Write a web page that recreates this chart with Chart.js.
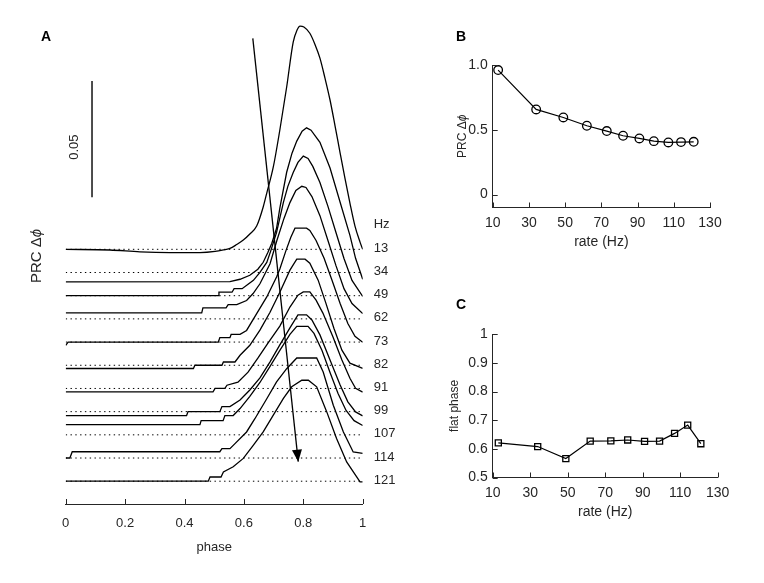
<!DOCTYPE html>
<html><head><meta charset="utf-8">
<script src="https://cdn.jsdelivr.net/npm/chart.js@4.4.0/dist/chart.umd.min.js"></script>
<style>
html,body{margin:0;padding:0;background:#fff;}
#wrap{position:relative;width:764px;height:583px;background:#fff;}
canvas{position:absolute;left:0;top:0;}
</style></head><body>
<div id="wrap">
<canvas id="cA" width="764" height="583"></canvas>
<canvas id="cB" width="764" height="583"></canvas>
<canvas id="cC" width="764" height="583"></canvas>
</div>
<script>
// ---------------- DATA ----------------
const rateHz = [13, 34, 49, 62, 73, 82, 91, 99, 107, 114, 121];
const prcPeakNorm = [0.961, 0.657, 0.595, 0.531, 0.490, 0.454, 0.433, 0.412, 0.402, 0.405, 0.407];
const flatPhase = [0.621, 0.608, 0.566, 0.627, 0.628, 0.631, 0.626, 0.627, 0.654, 0.683, 0.618];

const phaseTicks = [0, 0.2, 0.4, 0.6, 0.8, 1];
const phaseTickLabels = ['0', '0.2', '0.4', '0.6', '0.8', '1'];
const rateTicks = [10, 30, 50, 70, 90, 110, 130];
const rateTickLabels = ['10', '30', '50', '70', '90', '110', '130'];
const prcTicksB = [0, 0.5, 1.0];
const prcTickLabelsB = ['0', '0.5', '1.0'];
const flatTicksC = [0.5, 0.6, 0.7, 0.8, 0.9, 1];
const flatTickLabelsC = ['0.5', '0.6', '0.7', '0.8', '0.9', '1'];
const scaleBarValue = 0.05;

// PRC curves, [phase, delta phi] pairs
const prc13 = [[0,0],[0.149,-0.0003],[0.25,-0.0011],[0.351,-0.0014],[0.452,-0.0014],[0.503,-0.0009],[0.536,-0.0001],[0.553,0.0004],[0.576,0.0021],[0.598,0.0040],[0.620,0.0066],[0.643,0.0100],[0.665,0.0182],[0.677,0.0242],[0.699,0.0354],[0.721,0.0513],[0.744,0.0698],[0.766,0.0891],[0.779,0.0943],[0.789,0.0960],[0.802,0.0956],[0.822,0.0929],[0.839,0.0882],[0.856,0.0822],[0.873,0.0736],[0.890,0.0642],[0.907,0.0530],[0.924,0.0414],[0.940,0.0307],[0.957,0.0199],[0.974,0.0100],[0.991,0.0031],[1,0]];
const prc34 = [[0,-0.0040],[0.553,-0.0039],[0.587,-0.0029],[0.620,-0.0012],[0.647,0.0014],[0.665,0.0044],[0.681,0.0087],[0.694,0.0126],[0.710,0.0190],[0.721,0.0277],[0.744,0.0431],[0.762,0.0513],[0.778,0.0565],[0.796,0.0608],[0.811,0.0622],[0.826,0.0612],[0.856,0.0560],[0.890,0.0449],[0.924,0.0302],[0.957,0.0160],[0.976,0.0061],[1,-0.0029]];
const prc49 = [[0,0],[0.513,0],[0.516,0.0015],[0.560,0.0015],[0.567,0.0030],[0.594,0.0030],[0.614,0.0049],[0.632,0.0066],[0.654,0.0100],[0.677,0.0143],[0.691,0.0195],[0.710,0.0272],[0.733,0.0401],[0.748,0.0470],[0.766,0.0530],[0.782,0.0573],[0.800,0.0600],[0.816,0.0590],[0.832,0.0556],[0.856,0.0487],[0.883,0.0384],[0.910,0.0272],[0.937,0.0160],[0.964,0.0066],[1,-0.0003]];
const prc62 = [[0,0.0026],[0.458,0.0026],[0.462,0.0047],[0.540,0.0047],[0.547,0.0061],[0.576,0.0061],[0.609,0.0079],[0.631,0.0109],[0.654,0.0151],[0.688,0.0237],[0.711,0.0337],[0.735,0.0432],[0.755,0.0500],[0.775,0.0552],[0.795,0.0570],[0.809,0.0565],[0.829,0.0526],[0.856,0.0444],[0.883,0.0337],[0.910,0.0229],[0.937,0.0130],[0.964,0.0066],[1,0.0023]];
const prc73 = [[0,-0.0014],[0.008,0],[0.514,0],[0.519,0.0019],[0.553,0.0019],[0.557,0.0033],[0.587,0.0033],[0.609,0.0050],[0.643,0.0122],[0.677,0.0194],[0.710,0.0280],[0.721,0.0314],[0.741,0.0391],[0.758,0.0451],[0.772,0.0490],[0.811,0.0490],[0.822,0.0480],[0.843,0.0437],[0.870,0.0360],[0.897,0.0265],[0.924,0.0166],[0.950,0.0080],[0.974,0.0025],[1,-0.0001]];
const prc82 = [[0,-0.0014],[0.430,-0.0014],[0.435,0],[0.526,0],[0.531,0.0014],[0.570,0.0014],[0.587,0.0043],[0.620,0.0086],[0.654,0.0151],[0.688,0.0228],[0.721,0.0314],[0.755,0.0409],[0.778,0.0456],[0.806,0.0456],[0.822,0.0439],[0.850,0.0366],[0.876,0.0267],[0.903,0.0159],[0.930,0.0065],[0.957,0.0009],[1,-0.0013]];
const prc91 = [[0,-0.0015],[0.496,-0.0015],[0.503,0],[0.536,0],[0.543,0.0014],[0.580,0.0027],[0.614,0.0070],[0.647,0.0130],[0.681,0.0195],[0.721,0.0268],[0.755,0.0350],[0.782,0.0401],[0.800,0.0415],[0.822,0.0415],[0.843,0.0380],[0.866,0.0324],[0.900,0.0221],[0.930,0.0122],[0.957,0.0044],[0.976,0.0001],[1,-0.0016]];
const prc99 = [[0,-0.0017],[0.407,-0.0017],[0.412,0],[0.519,0],[0.526,0.0022],[0.553,0.0022],[0.587,0.0050],[0.620,0.0093],[0.654,0.0145],[0.688,0.0214],[0.721,0.0287],[0.755,0.0360],[0.782,0.0416],[0.811,0.0416],[0.829,0.0394],[0.856,0.0330],[0.890,0.0222],[0.924,0.0115],[0.950,0.0042],[0.976,-0.0001],[1,-0.0018]];
const prc107 = [[0,0.0044],[0.452,0.0044],[0.456,0.0061],[0.530,0.0061],[0.536,0.0083],[0.564,0.0083],[0.587,0.0113],[0.620,0.0165],[0.654,0.0225],[0.688,0.0294],[0.721,0.0363],[0.755,0.0432],[0.778,0.0466],[0.816,0.0466],[0.836,0.0436],[0.863,0.0363],[0.890,0.0268],[0.917,0.0178],[0.944,0.0105],[0.971,0.0061],[1,0.0040]];
const prc114 = [[0,0],[0.014,0],[0.022,0.0027],[0.519,0.0027],[0.526,0.0040],[0.553,0.0040],[0.570,0.0062],[0.609,0.0112],[0.637,0.0169],[0.677,0.0255],[0.710,0.0327],[0.744,0.0384],[0.778,0.0430],[0.845,0.0430],[0.867,0.0370],[0.901,0.0227],[0.935,0.0112],[0.968,0.0026],[1,0.0020]];
const prc121 = [[0,0],[0.480,0],[0.486,0.0018],[0.523,0.0018],[0.531,0.0040],[0.564,0.0062],[0.598,0.0098],[0.632,0.0155],[0.665,0.0212],[0.699,0.0284],[0.733,0.0356],[0.761,0.0406],[0.795,0.0434],[0.817,0.0434],[0.845,0.0406],[0.879,0.0298],[0.912,0.0184],[0.946,0.0083],[0.991,-0.0003],[1,-0.0003]];
const prcCurves = [prc13, prc34, prc49, prc62, prc73, prc82, prc91, prc99, prc107, prc114, prc121];

// ---------------- LAYOUT / STYLE ----------------
const FONT = '"Liberation Sans", Arial, Helvetica, sans-serif';
const TEXT = '#262626';
const AXIS = '#262626';
const STEP = 0.00997;          // vertical stacking step of PRC curves (panel A)
const SCALEBAR_X = 0.0886, SCALEBAR_Y0 = 0.0224;
const ARROW = {x0: 0.630, y0: 0.0907, x1: 0.783, y1: -0.0913};
const TICK = 5;

Chart.defaults.font.family = FONT;
Chart.defaults.color = TEXT;
Chart.defaults.animation = false;

const inwardTicks = {
  id: 'inwardTicks',
  afterDraw(chart) {
    const ctx = chart.ctx, a = chart.chartArea;
    ctx.save(); ctx.strokeStyle = AXIS; ctx.lineWidth = 1;
    const xs = chart.scales.x, ys = chart.scales.y;
    if (xs.options.display) xs.ticks.forEach(t => {
      const px = Math.round(xs.getPixelForValue(t.value)) + 0.5;
      ctx.beginPath(); ctx.moveTo(px, a.bottom); ctx.lineTo(px, a.bottom - TICK); ctx.stroke();
    });
    if (ys.options.display) ys.ticks.forEach(t => {
      const py = Math.round(ys.getPixelForValue(t.value)) + 0.5;
      ctx.beginPath(); ctx.moveTo(a.left, py); ctx.lineTo(a.left + TICK, py); ctx.stroke();
    });
    ctx.restore();
  }
};

function drawPRCLabel(ctx, x, y, size) {
  ctx.save(); ctx.translate(x, y); ctx.rotate(-Math.PI / 2);
  ctx.fillStyle = TEXT; ctx.textAlign = 'left'; ctx.textBaseline = 'middle';
  const a = 'PRC \u0394', b = '\u03D5';
  ctx.font = size + 'px ' + FONT; const wa = ctx.measureText(a).width;
  ctx.font = 'italic ' + size + 'px ' + FONT; const wb = ctx.measureText(b).width;
  const s = -(wa + wb) / 2;
  ctx.font = size + 'px ' + FONT; ctx.fillText(a, s, 0);
  ctx.font = 'italic ' + size + 'px ' + FONT; ctx.fillText(b, s + wa, 0);
  ctx.restore();
}
function panelLetter(ctx, t, x, y) {
  ctx.save(); ctx.fillStyle = '#000'; ctx.font = 'bold 14px ' + FONT;
  ctx.textAlign = 'left'; ctx.textBaseline = 'middle'; ctx.fillText(t, x, y); ctx.restore();
}
function tickFromArray(vals) {
  return s => { s.ticks = vals.map(v => ({value: v})); };
}
function labelFromArrays(vals, labels) {
  return (v) => { const i = vals.findIndex(q => Math.abs(q - v) < 1e-9); return i >= 0 ? labels[i] : ''; };
}

// ---------------- PANEL A ----------------
const dsA = [];
prcCurves.forEach((c, i) => {
  dsA.push({data: [{x: 0, y: -i * STEP}, {x: 1, y: -i * STEP}], borderColor: '#000', borderWidth: 1,
            borderDash: [1.4, 3.4], pointRadius: 0});
});
prcCurves.forEach((c, i) => {
  dsA.push({data: c.map(([p, v]) => ({x: p, y: v - i * STEP})), borderColor: '#000', borderWidth: 1.3,
            pointRadius: 0, tension: 0, cubicInterpolationMode: i === 0 ? 'monotone' : 'default'});
});
dsA.push({data: [{x: SCALEBAR_X, y: SCALEBAR_Y0}, {x: SCALEBAR_X, y: SCALEBAR_Y0 + scaleBarValue}],
          borderColor: '#000', borderWidth: 1.4, pointRadius: 0});
const arrowIndex = dsA.length;
dsA.push({data: [{x: ARROW.x0, y: ARROW.y0}, {x: ARROW.x1, y: ARROW.y1}], borderColor: '#000', borderWidth: 1.3, pointRadius: 0});

const annotA = {
  id: 'annotA',
  afterDraw(chart) {
    const ctx = chart.ctx, xs = chart.scales.x, ys = chart.scales.y, a = chart.chartArea;
    // arrowhead
    const pts = chart.getDatasetMeta(arrowIndex).data;
    const p0 = pts[0], p1 = pts[1];
    const dx = p1.x - p0.x, dy = p1.y - p0.y, L = Math.hypot(dx, dy), ux = dx / L, uy = dy / L;
    const len = 12, hw = 5;
    const bx = p1.x - ux * len, by = p1.y - uy * len;
    ctx.save(); ctx.fillStyle = '#000';
    ctx.beginPath(); ctx.moveTo(p1.x, p1.y); ctx.lineTo(bx - uy * hw, by + ux * hw);
    ctx.lineTo(bx + uy * hw, by - ux * hw); ctx.closePath(); ctx.fill();
    // Hz labels
    ctx.fillStyle = TEXT; ctx.font = '13px ' + FONT; ctx.textAlign = 'left'; ctx.textBaseline = 'middle';
    const lx = a.right + 11;
    ctx.fillText('Hz', lx, ys.getPixelForValue(0) - 25);
    rateHz.forEach((hz, i) => ctx.fillText(String(hz), lx, ys.getPixelForValue(-i * STEP) - 1));
    // scale bar label
    const sbx = xs.getPixelForValue(SCALEBAR_X);
    const sby = (ys.getPixelForValue(SCALEBAR_Y0) + ys.getPixelForValue(SCALEBAR_Y0 + scaleBarValue)) / 2;
    ctx.save(); ctx.translate(sbx - 18, sby + 8); ctx.rotate(-Math.PI / 2);
    ctx.textAlign = 'center'; ctx.fillText(String(scaleBarValue), 0, 0); ctx.restore();
    ctx.restore();
    drawPRCLabel(ctx, 37, 256, 15);
    panelLetter(ctx, 'A', 41, 37);
  }
};

new Chart(document.getElementById('cA'), {
  type: 'line',
  data: {datasets: dsA},
  options: {
    responsive: false, devicePixelRatio: 1, animation: false,
    layout: {padding: {left: 65.7, right: 401.3, top: 20, bottom: 24.2}},
    plugins: {legend: {display: false}, tooltip: {enabled: false}},
    scales: {
      x: {type: 'linear', min: 0, max: 1,
          afterBuildTicks: tickFromArray(phaseTicks),
          afterFit: s => { s.height = 54.8; },
          grid: {display: false, drawTicks: false},
          border: {display: true, color: AXIS, width: 1},
          ticks: {padding: 11.2, font: {size: 13}, color: TEXT, maxRotation: 0,
                  callback: labelFromArrays(phaseTicks, phaseTickLabels)},
          title: {display: true, text: 'phase', font: {size: 13}, color: TEXT}},
      y: {type: 'linear', display: false, min: -0.1095, max: 0.0986}
    }
  },
  plugins: [inwardTicks, annotA]
});

// ---------------- PANEL B ----------------
new Chart(document.getElementById('cB'), {
  type: 'line',
  data: {datasets: [{data: rateHz.map((r, i) => ({x: r, y: prcPeakNorm[i]})), borderColor: '#000', borderWidth: 1.2,
    pointStyle: 'circle', pointRadius: 4.3, pointBorderWidth: 1.3, pointBorderColor: '#000',
    pointBackgroundColor: 'rgba(0,0,0,0)', tension: 0}]},
  options: {
    responsive: false, devicePixelRatio: 1, animation: false,
    layout: {padding: {left: 451, right: 54, top: 65, bottom: 328.9}},
    plugins: {legend: {display: false}, tooltip: {enabled: false}},
    scales: {
      x: {type: 'linear', min: 10, max: 130,
          afterBuildTicks: tickFromArray(rateTicks),
          afterFit: s => { s.height = 46.6; },
          grid: {display: false, drawTicks: false},
          border: {display: true, color: AXIS, width: 1},
          ticks: {padding: 7, font: {size: 14}, color: TEXT, maxRotation: 0,
                  callback: labelFromArrays(rateTicks, rateTickLabels)},
          title: {display: true, text: 'rate (Hz)', font: {size: 14}, color: TEXT}},
      y: {type: 'linear', min: -0.1, max: 1.0,
          afterBuildTicks: tickFromArray(prcTicksB),
          afterFit: s => { s.width = 41.7; },
          grid: {display: false, drawTicks: false},
          border: {display: true, color: AXIS, width: 1},
          ticks: {padding: 5, font: {size: 14}, color: TEXT,
                  callback: labelFromArrays(prcTicksB, prcTickLabelsB)}}
    }
  },
  plugins: [inwardTicks, {id: 'annotB', afterDraw(chart) {
    const a = chart.chartArea;
    drawPRCLabel(chart.ctx, 462.7, (a.top + a.bottom) / 2, 12);
    panelLetter(chart.ctx, 'B', 456, 37);
  }}]
});

// ---------------- PANEL C ----------------
new Chart(document.getElementById('cC'), {
  type: 'line',
  data: {datasets: [{data: rateHz.map((r, i) => ({x: r, y: flatPhase[i]})), borderColor: '#000', borderWidth: 1.2,
    pointStyle: 'rect', pointRadius: 4.3, pointBorderWidth: 1.3, pointBorderColor: '#000',
    pointBackgroundColor: 'rgba(0,0,0,0)', tension: 0}]},
  options: {
    responsive: false, devicePixelRatio: 1, animation: false,
    layout: {padding: {left: 443.8, right: 46.3, top: 334.3, bottom: 58.9}},
    plugins: {legend: {display: false}, tooltip: {enabled: false}},
    scales: {
      x: {type: 'linear', min: 10, max: 130,
          afterBuildTicks: tickFromArray(rateTicks),
          afterFit: s => { s.height = 46.6; },
          grid: {display: false, drawTicks: false},
          border: {display: true, color: AXIS, width: 1},
          ticks: {padding: 7, font: {size: 14}, color: TEXT, maxRotation: 0,
                  callback: labelFromArrays(rateTicks, rateTickLabels)},
          title: {display: true, text: 'rate (Hz)', font: {size: 14}, color: TEXT}},
      y: {type: 'linear', min: 0.5, max: 1,
          afterBuildTicks: tickFromArray(flatTicksC),
          afterFit: s => { s.width = 48.9; },
          grid: {display: false, drawTicks: false},
          border: {display: true, color: AXIS, width: 1},
          ticks: {padding: 5, font: {size: 14}, color: TEXT,
                  callback: labelFromArrays(flatTicksC, flatTickLabelsC)},
          title: {display: true, text: 'flat phase', font: {size: 12}, color: TEXT}}
    }
  },
  plugins: [inwardTicks, {id: 'annotC', afterDraw(chart) {
    panelLetter(chart.ctx, 'C', 456, 305);
  }}]
});
</script>
</body></html>
